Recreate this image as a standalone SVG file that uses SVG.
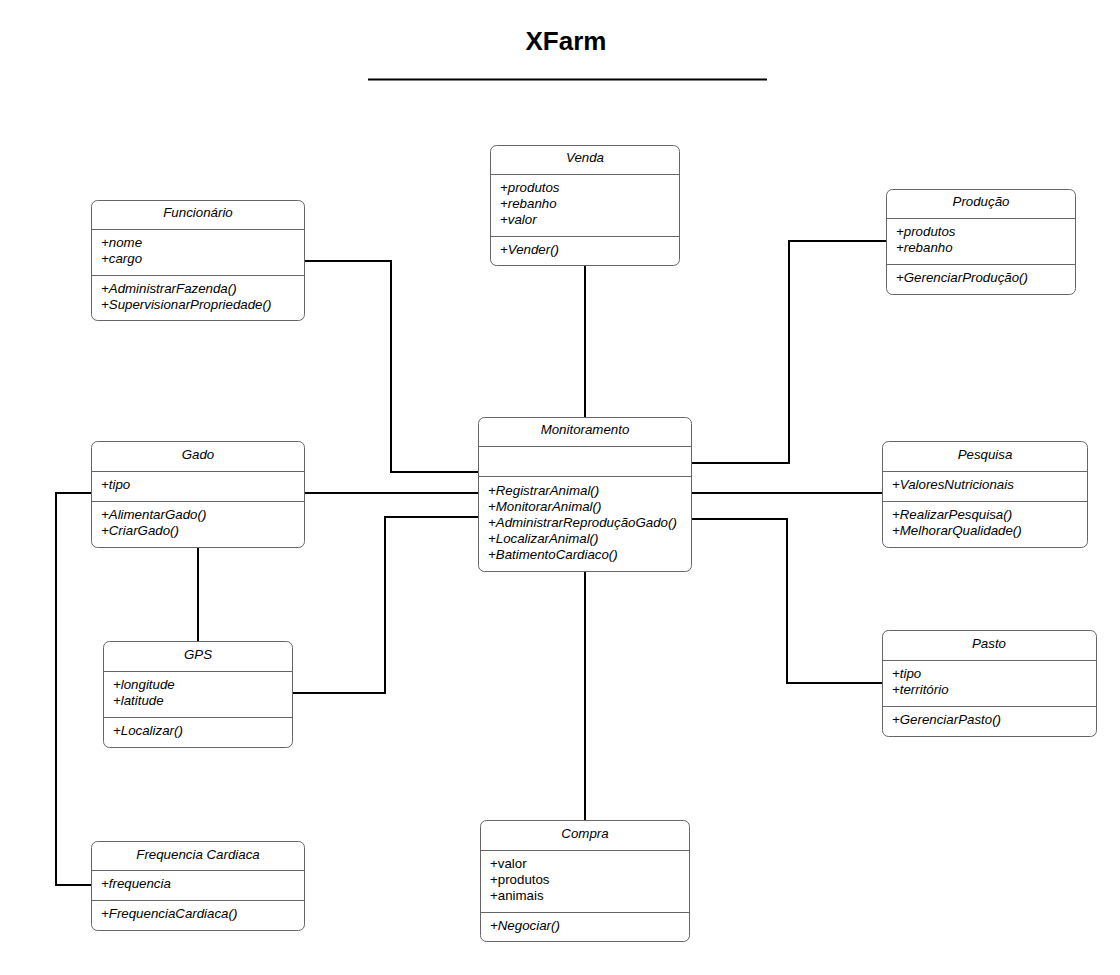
<svg xmlns="http://www.w3.org/2000/svg" width="1120" height="975" viewBox="0 0 1120 975">
<style>
.box{fill:#fff;stroke:#666;stroke-width:1}
.sep{stroke:#666;stroke-width:1}
text{font-family:"Liberation Sans",Arial,sans-serif;font-size:13.3px;fill:#000}
.t{text-anchor:middle;font-style:italic}
.i{font-style:italic}
.c{fill:none;stroke:#000;stroke-width:2}
</style>
<rect width="1120" height="975" fill="#fff"/>
<text x="566" y="50" text-anchor="middle" style="font-size:26px;font-weight:bold">XFarm</text>
<line x1="368" y1="79.5" x2="767" y2="79.5" stroke="#000" stroke-width="2"/>
<g id="connectors">
<polyline class="c" points="305,261 391,261 391,472 478,472"/>
<polyline class="c" points="585,266 585,417"/>
<polyline class="c" points="886,241 789,241 789,463 692,463"/>
<polyline class="c" points="305,493 478,493"/>
<polyline class="c" points="692,493 882,493"/>
<polyline class="c" points="293,693 385,693 385,517 478,517"/>
<polyline class="c" points="692,519 787,519 787,683 882,683"/>
<polyline class="c" points="198,547 198,641"/>
<polyline class="c" points="91,493 56,493 56,885 91,885"/>
<polyline class="c" points="585,571 585,820"/>
</g>
<g id="venda">
<rect class="box" x="490.5" y="145.5" width="189" height="120" rx="6"/>
<line class="sep" x1="490.5" y1="174.5" x2="679.5" y2="174.5"/>
<line class="sep" x1="490.5" y1="236.5" x2="679.5" y2="236.5"/>
<text class="t" x="585" y="162">Venda</text>
<text class="i" x="500" y="192">+produtos</text>
<text class="i" x="500" y="208">+rebanho</text>
<text class="i" x="500" y="224">+valor</text>
<text class="i" x="500" y="254">+Vender()</text>
</g>
<g id="funcionario">
<rect class="box" x="91.5" y="200.5" width="213" height="120" rx="6"/>
<line class="sep" x1="91.5" y1="229.5" x2="304.5" y2="229.5"/>
<line class="sep" x1="91.5" y1="275.5" x2="304.5" y2="275.5"/>
<text class="t" x="198" y="217">Funcionário</text>
<text class="i" x="101" y="247">+nome</text>
<text class="i" x="101" y="263">+cargo</text>
<text class="i" x="101" y="293">+AdministrarFazenda()</text>
<text class="i" x="101" y="309">+SupervisionarPropriedade()</text>
</g>
<g id="producao">
<rect class="box" x="886.5" y="189.5" width="189" height="105" rx="6"/>
<line class="sep" x1="886.5" y1="218.5" x2="1075.5" y2="218.5"/>
<line class="sep" x1="886.5" y1="264.5" x2="1075.5" y2="264.5"/>
<text class="t" x="981" y="206">Produção</text>
<text class="i" x="896" y="236">+produtos</text>
<text class="i" x="896" y="252">+rebanho</text>
<text class="i" x="896" y="282">+GerenciarProdução()</text>
</g>
<g id="monitoramento">
<rect class="box" x="478.5" y="417.5" width="213" height="154" rx="6"/>
<line class="sep" x1="478.5" y1="446.5" x2="691.5" y2="446.5"/>
<line class="sep" x1="478.5" y1="476.5" x2="691.5" y2="476.5"/>
<text class="t" x="585" y="434">Monitoramento</text>
<text class="i" x="488" y="495">+RegistrarAnimal()</text>
<text class="i" x="488" y="511">+MonitorarAnimal()</text>
<text class="i" x="488" y="527">+AdministrarReproduçãoGado()</text>
<text class="i" x="488" y="543">+LocalizarAnimal()</text>
<text class="i" x="488" y="559">+BatimentoCardiaco()</text>
</g>
<g id="gado">
<rect class="box" x="91.5" y="441.5" width="213" height="106" rx="6"/>
<line class="sep" x1="91.5" y1="471.5" x2="304.5" y2="471.5"/>
<line class="sep" x1="91.5" y1="501.5" x2="304.5" y2="501.5"/>
<text class="t" x="198" y="459">Gado</text>
<text class="i" x="101" y="489">+tipo</text>
<text class="i" x="101" y="519">+AlimentarGado()</text>
<text class="i" x="101" y="535">+CriarGado()</text>
</g>
<g id="pesquisa">
<rect class="box" x="882.5" y="441.5" width="205" height="106" rx="6"/>
<line class="sep" x1="882.5" y1="471.5" x2="1087.5" y2="471.5"/>
<line class="sep" x1="882.5" y1="501.5" x2="1087.5" y2="501.5"/>
<text class="t" x="985" y="459">Pesquisa</text>
<text class="i" x="892" y="489">+ValoresNutricionais</text>
<text class="i" x="892" y="519">+RealizarPesquisa()</text>
<text class="i" x="892" y="535">+MelhorarQualidade()</text>
</g>
<g id="gps">
<rect class="box" x="103.5" y="641.5" width="189" height="106" rx="6"/>
<line class="sep" x1="103.5" y1="671.5" x2="292.5" y2="671.5"/>
<line class="sep" x1="103.5" y1="717.5" x2="292.5" y2="717.5"/>
<text class="t" x="198" y="659">GPS</text>
<text class="i" x="113" y="689">+longitude</text>
<text class="i" x="113" y="705">+latitude</text>
<text class="i" x="113" y="735">+Localizar()</text>
</g>
<g id="pasto">
<rect class="box" x="882.5" y="630.5" width="214" height="106" rx="6"/>
<line class="sep" x1="882.5" y1="660.5" x2="1096.5" y2="660.5"/>
<line class="sep" x1="882.5" y1="706.5" x2="1096.5" y2="706.5"/>
<text class="t" x="989" y="648">Pasto</text>
<text class="i" x="892" y="678">+tipo</text>
<text class="i" x="892" y="694">+território</text>
<text class="i" x="892" y="724">+GerenciarPasto()</text>
</g>
<g id="frequencia">
<rect class="box" x="91.5" y="841.5" width="213" height="89" rx="6"/>
<line class="sep" x1="91.5" y1="870.5" x2="304.5" y2="870.5"/>
<line class="sep" x1="91.5" y1="900.5" x2="304.5" y2="900.5"/>
<text class="t" x="198" y="859">Frequencia Cardiaca</text>
<text class="i" x="101" y="888">+frequencia</text>
<text class="i" x="101" y="918">+FrequenciaCardiaca()</text>
</g>
<g id="compra">
<rect class="box" x="480.5" y="820.5" width="209" height="121" rx="6"/>
<line class="sep" x1="480.5" y1="850.5" x2="689.5" y2="850.5"/>
<line class="sep" x1="480.5" y1="912.5" x2="689.5" y2="912.5"/>
<text class="t" x="585" y="838">Compra</text>
<text x="490" y="868">+valor</text>
<text x="490" y="884">+produtos</text>
<text x="490" y="900">+animais</text>
<text class="i" x="490" y="930">+Negociar()</text>
</g>
</svg>
